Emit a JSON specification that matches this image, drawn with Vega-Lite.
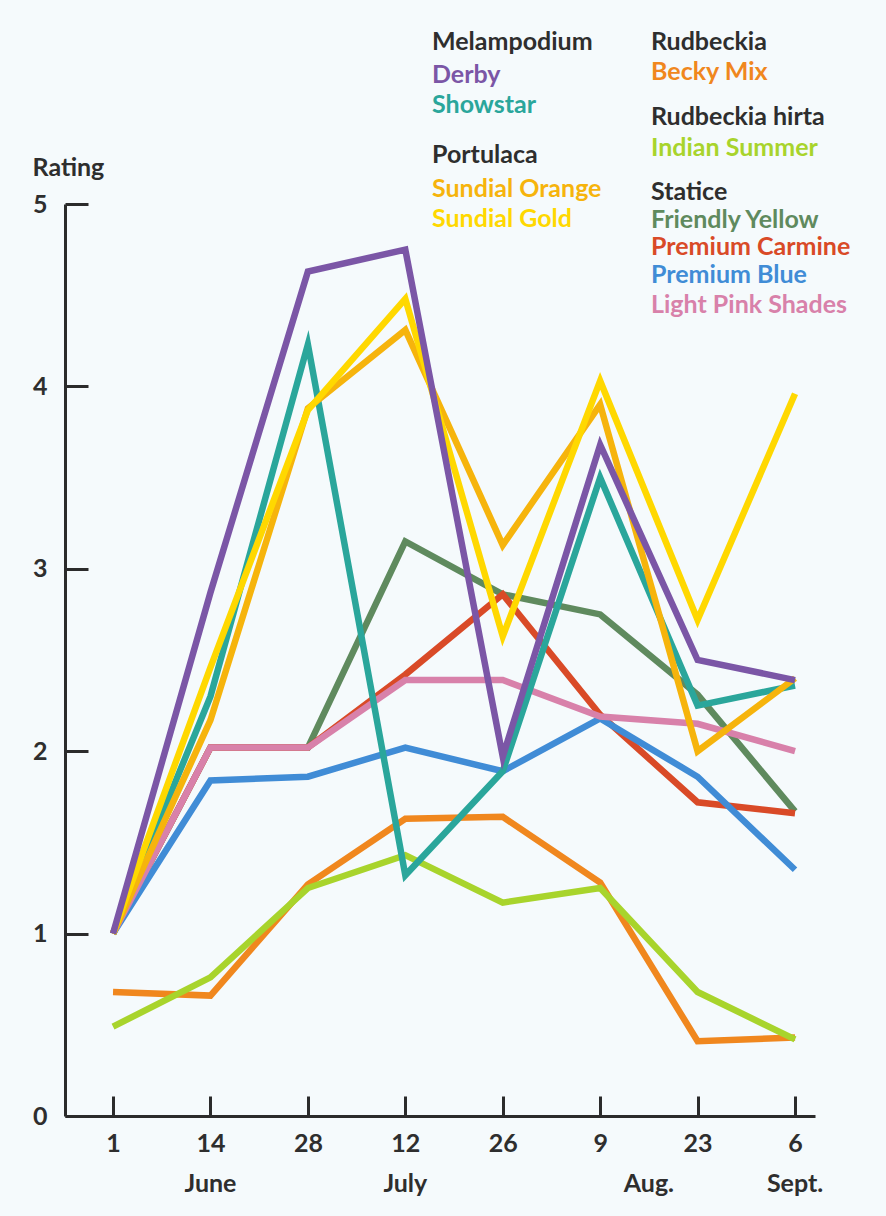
{
  "$schema": "https://vega.github.io/schema/vega-lite/v6.json",
  "width": 750,
  "height": 912,
  "autosize": {"type": "none"},
  "padding": {"left": 65, "top": 204, "right": 71, "bottom": 100},
  "background": "#F5FAFC",
  "config": {
    "view": {"stroke": null},
    "font": "Lato",
    "text": {"font": "Lato", "fontWeight": "bold"}
  },
  "datasets": {
    "ratings": [
      {"name": "Becky Mix", "period": 0, "rating": 0.68},
      {"name": "Becky Mix", "period": 1, "rating": 0.66},
      {"name": "Becky Mix", "period": 2, "rating": 1.27},
      {"name": "Becky Mix", "period": 3, "rating": 1.63},
      {"name": "Becky Mix", "period": 4, "rating": 1.64},
      {"name": "Becky Mix", "period": 5, "rating": 1.28},
      {"name": "Becky Mix", "period": 6, "rating": 0.41},
      {"name": "Becky Mix", "period": 7, "rating": 0.43},
      {"name": "Indian Summer", "period": 0, "rating": 0.49},
      {"name": "Indian Summer", "period": 1, "rating": 0.76},
      {"name": "Indian Summer", "period": 2, "rating": 1.25},
      {"name": "Indian Summer", "period": 3, "rating": 1.43},
      {"name": "Indian Summer", "period": 4, "rating": 1.17},
      {"name": "Indian Summer", "period": 5, "rating": 1.25},
      {"name": "Indian Summer", "period": 6, "rating": 0.68},
      {"name": "Indian Summer", "period": 7, "rating": 0.42},
      {"name": "Friendly Yellow", "period": 0, "rating": 1.0},
      {"name": "Friendly Yellow", "period": 1, "rating": 2.02},
      {"name": "Friendly Yellow", "period": 2, "rating": 2.02},
      {"name": "Friendly Yellow", "period": 3, "rating": 3.15},
      {"name": "Friendly Yellow", "period": 4, "rating": 2.86},
      {"name": "Friendly Yellow", "period": 5, "rating": 2.75},
      {"name": "Friendly Yellow", "period": 6, "rating": 2.31},
      {"name": "Friendly Yellow", "period": 7, "rating": 1.67},
      {"name": "Premium Carmine", "period": 0, "rating": 1.0},
      {"name": "Premium Carmine", "period": 1, "rating": 2.02},
      {"name": "Premium Carmine", "period": 2, "rating": 2.02},
      {"name": "Premium Carmine", "period": 3, "rating": 2.42},
      {"name": "Premium Carmine", "period": 4, "rating": 2.86},
      {"name": "Premium Carmine", "period": 5, "rating": 2.2},
      {"name": "Premium Carmine", "period": 6, "rating": 1.72},
      {"name": "Premium Carmine", "period": 7, "rating": 1.66},
      {"name": "Premium Blue", "period": 0, "rating": 1.0},
      {"name": "Premium Blue", "period": 1, "rating": 1.84},
      {"name": "Premium Blue", "period": 2, "rating": 1.86},
      {"name": "Premium Blue", "period": 3, "rating": 2.02},
      {"name": "Premium Blue", "period": 4, "rating": 1.89},
      {"name": "Premium Blue", "period": 5, "rating": 2.18},
      {"name": "Premium Blue", "period": 6, "rating": 1.86},
      {"name": "Premium Blue", "period": 7, "rating": 1.35},
      {"name": "Light Pink Shades", "period": 0, "rating": 1.0},
      {"name": "Light Pink Shades", "period": 1, "rating": 2.02},
      {"name": "Light Pink Shades", "period": 2, "rating": 2.02},
      {"name": "Light Pink Shades", "period": 3, "rating": 2.39},
      {"name": "Light Pink Shades", "period": 4, "rating": 2.39},
      {"name": "Light Pink Shades", "period": 5, "rating": 2.19},
      {"name": "Light Pink Shades", "period": 6, "rating": 2.15},
      {"name": "Light Pink Shades", "period": 7, "rating": 2.0},
      {"name": "Showstar", "period": 0, "rating": 1.0},
      {"name": "Showstar", "period": 1, "rating": 2.3},
      {"name": "Showstar", "period": 2, "rating": 4.23},
      {"name": "Showstar", "period": 3, "rating": 1.32},
      {"name": "Showstar", "period": 4, "rating": 1.89},
      {"name": "Showstar", "period": 5, "rating": 3.5},
      {"name": "Showstar", "period": 6, "rating": 2.25},
      {"name": "Showstar", "period": 7, "rating": 2.36},
      {"name": "Sundial Orange", "period": 0, "rating": 1.0},
      {"name": "Sundial Orange", "period": 1, "rating": 2.17},
      {"name": "Sundial Orange", "period": 2, "rating": 3.88},
      {"name": "Sundial Orange", "period": 3, "rating": 4.31},
      {"name": "Sundial Orange", "period": 4, "rating": 3.13},
      {"name": "Sundial Orange", "period": 5, "rating": 3.9},
      {"name": "Sundial Orange", "period": 6, "rating": 2.0},
      {"name": "Sundial Orange", "period": 7, "rating": 2.4},
      {"name": "Sundial Gold", "period": 0, "rating": 1.0},
      {"name": "Sundial Gold", "period": 1, "rating": 2.46},
      {"name": "Sundial Gold", "period": 2, "rating": 3.87},
      {"name": "Sundial Gold", "period": 3, "rating": 4.48},
      {"name": "Sundial Gold", "period": 4, "rating": 2.63},
      {"name": "Sundial Gold", "period": 5, "rating": 4.03},
      {"name": "Sundial Gold", "period": 6, "rating": 2.72},
      {"name": "Sundial Gold", "period": 7, "rating": 3.96},
      {"name": "Derby", "period": 0, "rating": 1.0},
      {"name": "Derby", "period": 1, "rating": 2.87},
      {"name": "Derby", "period": 2, "rating": 4.63},
      {"name": "Derby", "period": 3, "rating": 4.75},
      {"name": "Derby", "period": 4, "rating": 1.97},
      {"name": "Derby", "period": 5, "rating": 3.68},
      {"name": "Derby", "period": 6, "rating": 2.5},
      {"name": "Derby", "period": 7, "rating": 2.39}
    ],
    "months": [
      {"month": "June", "period": 1},
      {"month": "July", "period": 3},
      {"month": "Aug.", "period": 5.5},
      {"month": "Sept.", "period": 7}
    ],
    "legend": [
      {"name": "Melampodium", "col": 0, "line": 0},
      {"name": "Derby", "col": 0, "line": 1.1},
      {"name": "Showstar", "col": 0, "line": 2.1},
      {"name": "Portulaca", "col": 0, "line": 3.77},
      {"name": "Sundial Orange", "col": 0, "line": 4.9},
      {"name": "Sundial Gold", "col": 0, "line": 5.9},
      {"name": "Rudbeckia", "col": 1, "line": 0},
      {"name": "Becky Mix", "col": 1, "line": 1.0},
      {"name": "Rudbeckia hirta", "col": 1, "line": 2.5},
      {"name": "Indian Summer", "col": 1, "line": 3.53},
      {"name": "Statice", "col": 1, "line": 5.0},
      {"name": "Friendly Yellow", "col": 1, "line": 5.93},
      {"name": "Premium Carmine", "col": 1, "line": 6.83},
      {"name": "Premium Blue", "col": 1, "line": 7.77},
      {"name": "Light Pink Shades", "col": 1, "line": 8.77}
    ]
  },
  "resolve": {"scale": {"x": "independent", "y": "independent"}},
  "layer": [
    {
      "layer": [
        {
          "data": {"name": "ratings"},
          "mark": {"type": "line", "strokeWidth": 6.5, "strokeCap": "butt", "strokeJoin": "miter", "strokeMiterLimit": 10, "clip": false},
          "encoding": {
            "x": {
              "field": "period", "type": "quantitative",
              "scale": {"domain": [-0.493, 7.205], "nice": false, "zero": false},
              "axis": {
                "values": [0, 1, 2, 3, 4, 5, 6, 7],
                "labelExpr": "['1','14','28','12','26','9','23','6'][datum.value]",
                "title": null, "grid": false,
                "tickSize": -20, "tickWidth": 3, "tickColor": "#2b2b2b",
                "domainWidth": 3, "domainColor": "#2b2b2b",
                "labelPadding": 35, "labelFont": "Lato", "labelFontSize": 25, "labelFontWeight": "bold", "labelColor": "#2e2e2e",
                "labelFlush": false, "labelOverlap": false
              }
            },
            "y": {
              "field": "rating", "type": "quantitative",
              "scale": {"domain": [0, 5], "nice": false, "zero": false},
              "axis": {
                "values": [0, 1, 2, 3, 4, 5],
                "format": "d",
                "title": "Rating", "titleAngle": 0, "titleAlign": "left", "titleBaseline": "alphabetic",
                "titleX": -33, "titleY": -29, "titleFont": "Lato", "titleFontSize": 25, "titleFontWeight": "bold", "titleColor": "#2e2e2e",
                "grid": false,
                "tickSize": -23, "tickWidth": 3, "tickColor": "#2b2b2b",
                "domainWidth": 3, "domainColor": "#2b2b2b",
                "labelPadding": 41, "labelFont": "Lato", "labelFontSize": 25, "labelFontWeight": "bold", "labelColor": "#2e2e2e",
                "labelFlush": false, "labelOverlap": false
              }
            },
            "color": {
              "field": "name", "type": "nominal", "legend": null,
              "scale": {
                "domain": ["Melampodium", "Portulaca", "Rudbeckia", "Rudbeckia hirta", "Statice", "Derby", "Showstar", "Sundial Orange", "Sundial Gold", "Becky Mix", "Indian Summer", "Friendly Yellow", "Premium Carmine", "Premium Blue", "Light Pink Shades"],
                "range": ["#2e2e2e", "#2e2e2e", "#2e2e2e", "#2e2e2e", "#2e2e2e", "#7B56A6", "#2AA69B", "#F6B40C", "#FFD800", "#F0871E", "#A8D42C", "#5F8A5E", "#D94A27", "#408CD6", "#D881AA"]
              }
            }
          }
        },
        {
          "data": {"name": "months"},
          "mark": {"type": "text", "fontSize": 25, "fontWeight": "bold", "color": "#2e2e2e", "baseline": "alphabetic", "align": "center"},
          "encoding": {
            "x": {"field": "period", "type": "quantitative"},
            "y": {"datum": -0.417},
            "text": {"field": "month"}
          }
        }
      ]
    },
    {
      "data": {"name": "legend"},
      "mark": {"type": "text", "fontSize": 25, "fontWeight": "bold", "align": "left", "baseline": "alphabetic"},
      "encoding": {
        "x": {"field": "col", "type": "quantitative", "axis": null, "scale": {"domain": [0, 1], "range": [367, 586], "zero": false, "nice": false}},
        "y": {"field": "line", "type": "quantitative", "axis": null, "scale": {"domain": [0, 10], "range": [-154, 146], "zero": false, "nice": false}},
        "text": {"field": "name"},
        "color": {"field": "name", "type": "nominal", "legend": null}
      }
    }
  ]
}
